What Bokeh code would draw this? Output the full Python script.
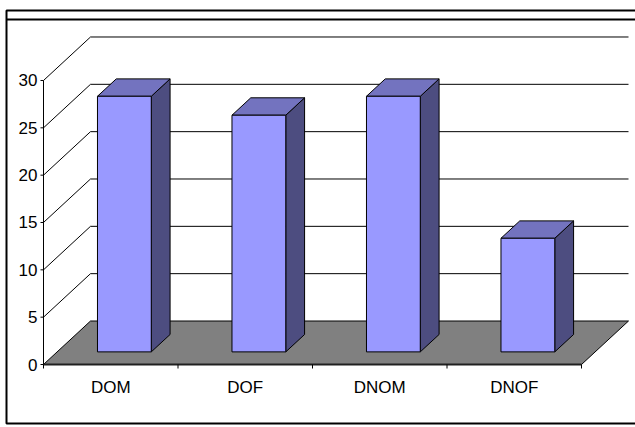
import numpy as np
from bokeh.plotting import figure
from bokeh.models import Range1d
from bokeh.core.properties import value
from bokeh.embed import file_html
from bokeh.resources import INLINE

# ---------------- data ----------------
categories = ["DOM", "DOF", "DNOM", "DNOF"]
values = [27, 25, 27, 12]
y_ticks = [0, 5, 10, 15, 20, 25, 30]
y_tick_labels = ["0", "5", "10", "15", "20", "25", "30"]

# ---------------- layout / projection ----------------
W, H = 635, 427
ORIGIN_PX = (43, 364)      # front-left floor corner, pixels
CAT_PX = 134.5             # pixels per category
VAL_PX = 9.467             # pixels per value unit
DEPTH_PX = (47.0, 43.5)    # back-wall offset in pixels
DX = DEPTH_PX[0] / CAT_PX  # depth offset in category units
DY = DEPTH_PX[1] / VAL_PX  # depth offset in value units
BAR_W = 0.4
D1, D2 = 0.29, 0.69        # bar front / back depth fraction
FONT = value("Liberation Sans")

n = len(categories)
y_max = y_ticks[-1]


def proj(c, v, d):
    return c + d * DX, v + d * DY


def px(xp, yp):
    """pixel position -> data coordinates (for chart frame decoration)"""
    return (xp - ORIGIN_PX[0]) / CAT_PX, (ORIGIN_PX[1] - yp) / VAL_PX


x0, y1 = px(0, 0)
x1, y0 = px(W, H)

p = figure(width=W, height=H, output_backend="svg", toolbar_location=None,
           x_range=Range1d(x0, x1), y_range=Range1d(y0, y1),
           x_axis_location=None, y_axis_location=None, min_border=0)
p.outline_line_color = None
p.grid.visible = False
p.background_fill_color = "white"
p.border_fill_color = "white"

# ---------- floor ----------
fl = [proj(0, 0, 0), proj(n, 0, 0), proj(n, 0, 1), proj(0, 0, 1)]
p.patch([a for a, b in fl], [b for a, b in fl], fill_color="#808080",
        line_color="black", line_width=1)

# ---------- walls: gridlines ----------
for t in y_ticks:
    if t == 0:
        continue
    a = proj(0, t, 0); b = proj(0, t, 1); c = proj(n, t, 1)
    p.line([a[0], b[0], c[0]], [a[1], b[1], c[1]], line_color="black", line_width=1)

# ---------- value axis ----------
p.segment(x0=[0], y0=[0], x1=[0], y1=[y_max], line_color="black", line_width=1)
tick_len = 3 / CAT_PX
p.segment(x0=[-tick_len] * len(y_ticks), y0=y_ticks, x1=[0] * len(y_ticks), y1=y_ticks,
          line_color="black", line_width=1)
p.text(x=[0] * len(y_ticks), y=y_ticks, text=y_tick_labels, x_offset=-6,
       text_align="right", text_baseline="middle", text_font=FONT,
       text_font_size="17px", text_color="black")

# ---------- category axis ----------
p.segment(x0=[0], y0=[0], x1=[n], y1=[0], line_color="#202020", line_width=2)
tl = 4 / VAL_PX
p.segment(x0=list(range(n + 1)), y0=[0] * (n + 1), x1=list(range(n + 1)), y1=[-tl] * (n + 1),
          line_color="black", line_width=1)
p.text(x=[i + 0.5 for i in range(n)], y=[0] * n, text=categories, y_offset=23,
       text_align="center", text_baseline="middle", text_font=FONT,
       text_font_size="17px", text_color="black")

# ---------- bars ----------
fx, fy, sx, sy, tx, ty = [], [], [], [], [], []
for i, v in enumerate(values):
    l, r = i + 0.5 - BAR_W / 2, i + 0.5 + BAR_W / 2
    front = [proj(l, 0, D1), proj(r, 0, D1), proj(r, v, D1), proj(l, v, D1)]
    side = [proj(r, 0, D1), proj(r, 0, D2), proj(r, v, D2), proj(r, v, D1)]
    top = [proj(l, v, D1), proj(r, v, D1), proj(r, v, D2), proj(l, v, D2)]
    for pts, X, Y in ((front, fx, fy), (side, sx, sy), (top, tx, ty)):
        X.append([a for a, b in pts]); Y.append([b for a, b in pts])

p.patches(sx, sy, fill_color="#4D4D80", line_color="black", line_width=1)
p.patches(tx, ty, fill_color="#7373BF", line_color="black", line_width=1)
p.patches(fx, fy, fill_color="#9999FF", line_color="black", line_width=1)

# ---------- chart frame ----------
fxl, fyt = px(6, 10)
_, fyi = px(6, 19)
fxr, fyb = px(W + 5, 423)
p.line([fxr, fxl, fxl, fxr], [fyt, fyt, fyb, fyb], line_color="black", line_width=2)
p.segment(x0=[fxl], y0=[fyi], x1=[fxr], y1=[fyi], line_color="black", line_width=2)

open("out.html", "w").write(file_html(p, INLINE))
